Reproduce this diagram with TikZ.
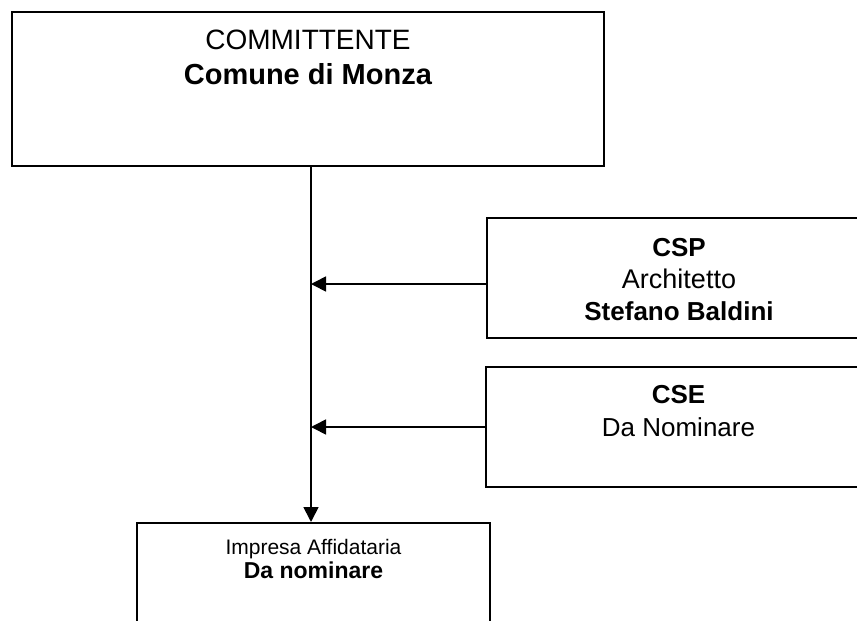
\documentclass[tikz,border=0pt]{standalone}
\usepackage{fontspec}
\setmainfont{Liberation Sans}
\usetikzlibrary{positioning,
           arrows.meta,               % pointes de flèches
           calc}

\begin{document}
\begin{tikzpicture}[x=1pt,y=1pt,
    boite/.style={draw,line width=2pt,inner sep=0,anchor=north west},
    texte/.style={inner sep=0,align=center},
    fleche/.style={line width=1.7pt,-{Triangle[length=15pt,width=15pt]}}]
\useasboundingbox (0,0) rectangle (857,-621);
% les cadres
\node[boite,minimum width=592pt,minimum height=154pt](COMM) at (11,-11){};
\node[boite,minimum width=384pt,minimum height=120pt](CSP) at (486,-217){};
\node[boite,minimum width=385pt,minimum height=120pt](CSE) at (485,-366){};
\node[boite,minimum width=353pt,minimum height=150pt](IMP) at (136,-522){};
% les textes
\node[texte,below=19pt of COMM.north,font=\fontsize{28}{35}\selectfont](COMMtxt)
     {COMMITTENTE\\\textbf{\fontsize{29}{35}\selectfont Comune di Monza}};
\node[texte,below=21pt of CSP.north,font=\fontsize{26}{32}\selectfont](CSPtxt)
     {\textbf{CSP}\\\fontsize{27}{32}\selectfont Architetto\\\textbf{Stefano Baldini}};
\node[texte,below=19pt of CSE.north,font=\fontsize{26}{33}\selectfont](CSEtxt)
     {\textbf{CSE}\\Da Nominare};
\node[texte,below=17pt of IMP.north,font=\fontsize{21}{24}\selectfont](IMPtxt)
     {Impresa Affidataria\\\textbf{\fontsize{23}{24}\selectfont Da nominare}};
% les liaisons
\draw[fleche] ([xshift=-2.5pt]COMM.south -| IMP.north) -- ([xshift=-2.5pt]IMP.north);
\draw[fleche] ([yshift=-6pt]CSP.west) -- ([yshift=-6pt,xshift=-2.5pt]CSP.west -| IMP.north);
\draw[fleche] (CSE.west) -- ([xshift=-2.5pt]CSE.west -| IMP.north);
\end{tikzpicture}
\end{document}
